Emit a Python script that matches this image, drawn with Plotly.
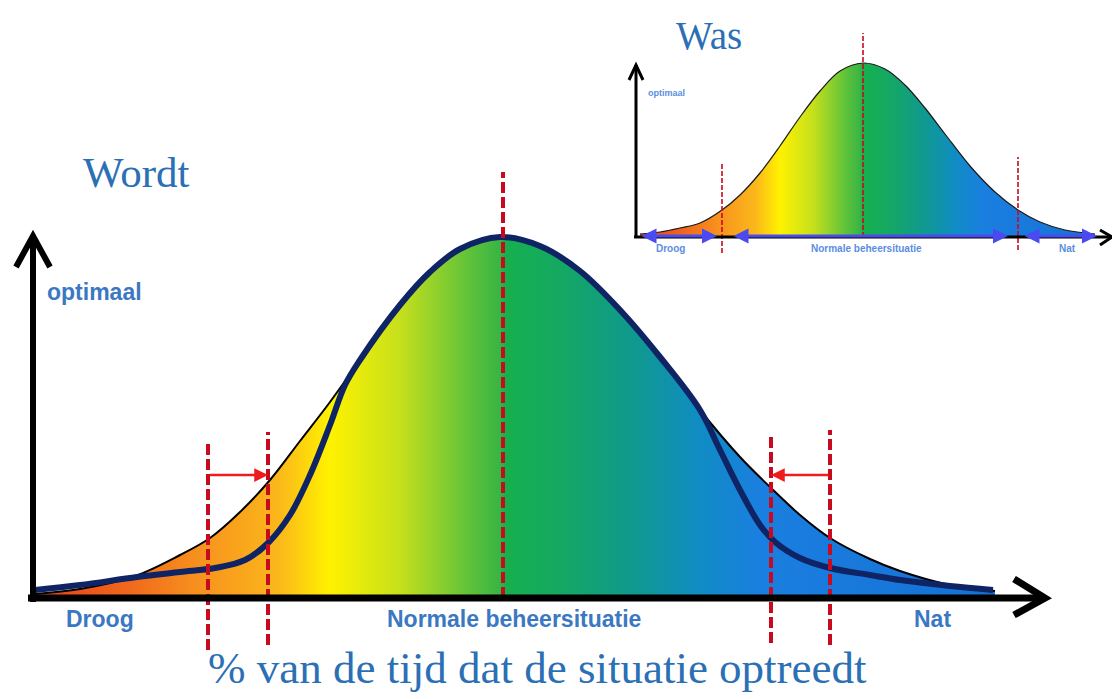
import plotly.graph_objects as go

# ---- main curve ("Wordt"), x in px, height above the baseline in px
main_x = [35, 80, 135, 180, 210, 240, 270, 300, 330, 360, 400, 430, 460, 500,
          540, 580, 620, 660, 700, 740, 770, 800, 830, 870, 900, 950, 995]
main_h = [4, 9, 22, 43, 60, 86, 118, 157, 196, 238, 293, 326, 349, 361,
          352, 327, 288, 241, 188, 141, 111, 83, 60, 39, 27, 13, 7]

# narrowed curve (dark line)
new_x = [35, 80, 137, 180, 215, 245, 268, 290, 310, 330, 345, 360, 400, 430, 460,
         500, 540, 580, 620, 660, 700, 720, 740, 760, 775, 800, 830, 870, 900, 950, 993]
new_h = [8, 13, 21, 26, 30, 38, 55, 83, 123, 173, 213, 238, 293, 326, 349,
         361, 352, 327, 288, 241, 188, 148, 108, 73, 56, 40, 30, 23, 18, 12, 8]

# boundaries (red dashed lines)
bound_x = [208, 268, 503, 771, 830]
bound_top = [158, 166, 426, 165, 168]
bound_bot = [-52, -47, 0, -45, -47]

# shift of the boundaries (red arrows)
shift_from = [208, 830]
shift_to = [268, 771]
shift_h = 123

# ---- inset curve ("Was")
was_x = [640, 660, 680, 700, 722, 740, 760, 780, 800, 820, 840, 863, 885, 905,
         925, 945, 970, 995, 1018, 1040, 1065, 1095]
was_h = [3, 5, 9, 14, 27, 42, 64, 91, 120, 146, 166, 174, 168, 152,
         129, 103, 71, 45, 27, 15, 7, 3]
was_bound_x = [722, 863, 1018]
was_bound_top = [75, 204, 80]
was_bound_bot = [-16, 0, -13]
zone_from = [640, 732, 1023]
zone_to = [717, 1008, 1097]

labels = ["Droog", "Normale beheersituatie", "Nat"]
label_x = [100, 514, 932]
was_label_x = [670, 866, 1067]

gradient = [
    [0.0, "#e63e1a"], [0.09, "#f0641c"], [0.17, "#f7911e"], [0.255, "#fbb81a"],
    [0.307, "#fff200"], [0.38, "#c6e01c"], [0.453, "#5ec23a"], [0.484, "#38b544"],
    [0.49, "#16b04e"], [0.547, "#14a862"], [0.62, "#0f9a8c"], [0.693, "#108cc4"],
    [0.755, "#1a7fe0"], [1.0, "#1670d4"],
]

SERIF = "Liberation Serif"
SANS = "Liberation Sans"
BLUE_SERIF = "#2b6fb5"
BLUE_SANS = "#3b78c2"
RED_DASH = "#c80a1e"

fig = go.Figure()

# main distribution
fig.add_trace(go.Scatter(
    x=main_x, y=main_h, mode="lines", line=dict(color="black", width=2, shape="spline"),
    fill="tozeroy", fillgradient=dict(type="horizontal", colorscale=gradient,
                                      start=main_x[0], stop=main_x[-1]),
    hoverinfo="skip"))
fig.add_trace(go.Scatter(
    x=new_x, y=new_h, mode="lines", line=dict(color="#0f2464", width=6, shape="spline"),
    hoverinfo="skip"))

for bx, bt, bb in zip(bound_x, bound_top, bound_bot):
    fig.add_trace(go.Scatter(x=[bx, bx], y=[bb, bt], mode="lines",
                             line=dict(color=RED_DASH, width=4, dash="11px,4px"),
                             hoverinfo="skip"))

for x0, x1 in zip(shift_from, shift_to):
    fig.add_annotation(x=x1, y=shift_h, ax=x0, ay=shift_h, xref="x", yref="y",
                       axref="x", ayref="y", showarrow=True, text="",
                       arrowhead=2, arrowsize=1.1, arrowwidth=2.5, arrowcolor="#ee1c1c")

# inset distribution
fig.add_trace(go.Scatter(
    x=was_x, y=was_h, mode="lines", line=dict(color="#1a1a1a", width=1.2, shape="spline"),
    fill="tozeroy", fillgradient=dict(type="horizontal", colorscale=gradient,
                                      start=was_x[0], stop=was_x[-1]),
    xaxis="x2", yaxis="y2", hoverinfo="skip"))
for bx, bt, bb in zip(was_bound_x, was_bound_top, was_bound_bot):
    fig.add_trace(go.Scatter(x=[bx, bx], y=[bb, bt], mode="lines",
                             line=dict(color=RED_DASH, width=1.6, dash="5px,2px"),
                             xaxis="x2", yaxis="y2", hoverinfo="skip"))
for x0, x1 in zip(zone_from, zone_to):
    fig.add_annotation(x=x1, y=1, ax=x0, ay=1, xref="x2", yref="y2",
                       axref="x2", ayref="y2", showarrow=True, text="",
                       arrowhead=2, startarrowhead=2, arrowside="end+start",
                       arrowsize=1, arrowwidth=3, arrowcolor="#4a4af0")

# axes (drawn as thick arrows)
axis_shapes = [
    dict(xref="x", yref="y", path="M 33,-4 L 33,362", width=6),
    dict(xref="x", yref="y", path="M 16,331 L 33,362 L 50,331", width=6),
    dict(xref="x", yref="y", path="M 28,0 L 1045,0", width=7),
    dict(xref="x", yref="y", path="M 1014,19 L 1045,0 L 1014,-17", width=7),
    dict(xref="x2", yref="y2", path="M 636,-1 L 636,172", width=3),
    dict(xref="x2", yref="y2", path="M 629,157 L 636,172 L 643,157", width=3),
    dict(xref="x2", yref="y2", path="M 634,0 L 1112,0", width=3),
    dict(xref="x2", yref="y2", path="M 1100,7 L 1112,0 L 1100,-8", width=3),
]
for s in axis_shapes:
    fig.add_shape(type="path", xref=s["xref"], yref=s["yref"], path=s["path"],
                  line=dict(color="black", width=s["width"]), layer="above")

# texts
fig.add_annotation(x=136, y=426, xref="x", yref="y", text="Wordt", showarrow=False,
                   font=dict(family=SERIF, size=43, color=BLUE_SERIF))
fig.add_annotation(x=94, y=306, xref="x", yref="y", text="<b>optimaal</b>", showarrow=False,
                   font=dict(family=SANS, size=23, color=BLUE_SANS))
for t, lx in zip(labels, label_x):
    fig.add_annotation(x=lx, y=-21, xref="x", yref="y", text="<b>" + t + "</b>",
                       showarrow=False, font=dict(family=SANS, size=23, color=BLUE_SANS))
fig.add_annotation(x=537, y=-70, xref="x", yref="y",
                   text="% van de tijd dat de situatie optreedt", showarrow=False,
                   font=dict(family=SERIF, size=45, color=BLUE_SERIF))

fig.add_annotation(x=709, y=202, xref="x2", yref="y2", text="Was", showarrow=False,
                   font=dict(family=SERIF, size=39, color=BLUE_SERIF))
fig.add_annotation(x=666, y=144, xref="x2", yref="y2", text="<b>optimaal</b>", showarrow=False,
                   font=dict(family=SANS, size=9, color="#5b8ee0"))
for t, lx in zip(labels, was_label_x):
    fig.add_annotation(x=lx, y=-11, xref="x2", yref="y2", text="<b>" + t + "</b>",
                       showarrow=False, font=dict(family=SANS, size=10, color="#5b8ee0"))

hidden = dict(visible=False, showgrid=False, zeroline=False, fixedrange=True)
fig.update_layout(
    width=1112, height=699, autosize=False,
    margin=dict(l=0, r=0, t=0, b=0),
    paper_bgcolor="white", plot_bgcolor="rgba(0,0,0,0)",
    showlegend=False,
    xaxis=dict(range=[0, 1112], domain=[0, 1], **hidden),
    yaxis=dict(range=[-101, 598], domain=[0, 1], **hidden),
    xaxis2=dict(range=[600, 1112], domain=[600 / 1112, 1], anchor="y2", **hidden),
    yaxis2=dict(range=[-33, 237], domain=[1 - 270 / 699, 1], anchor="x2", **hidden),
)

fig.write_html("out.html", config={"displayModeBar": False},
               post_script="document.body.style.margin='0';")
